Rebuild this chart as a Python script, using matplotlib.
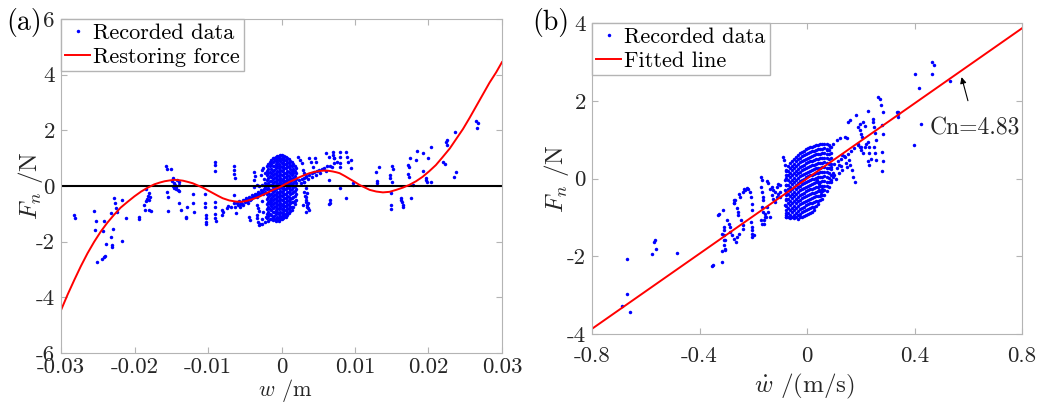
import matplotlib

matplotlib.use("Agg")
import matplotlib.pyplot as plt
import numpy as np

plt.rcParams["font.family"] = "serif"
plt.rcParams["font.serif"] = ["cmr10"]
plt.rcParams["mathtext.fontset"] = "cm"
plt.rcParams["axes.unicode_minus"] = False
plt.rcParams["axes.formatter.use_mathtext"] = True

AX_GREY = "#b4b4b4"
TXT = "#262626"

# ---- (a) restoring force vs displacement ----
curve_w = [-0.0300, -0.0291, -0.0282, -0.0273, -0.0264, -0.0255, -0.0246, -0.0237,
           -0.0228, -0.0219, -0.0209, -0.0200, -0.0191, -0.0182, -0.0173, -0.0166,
           -0.0159, -0.0152, -0.0146, -0.0140, -0.0134, -0.0128, -0.0121, -0.0114,
           -0.0107, -0.0100, -0.0093, -0.0086, -0.0080, -0.0071, -0.0062, -0.0055,
           -0.0048, -0.0039, -0.0030, -0.0023, -0.0016, -0.0010, -0.0003, 0.0004,
           0.0011, 0.0018, 0.0024, 0.0031, 0.0038, 0.0047, 0.0056, 0.0063,
           0.0070, 0.0075, 0.0079, 0.0086, 0.0093, 0.0100, 0.0106, 0.0113,
           0.0120, 0.0129, 0.0138, 0.0147, 0.0156, 0.0165, 0.0174, 0.0183,
           0.0192, 0.0201, 0.0210, 0.0219, 0.0229, 0.0238, 0.0247, 0.0256,
           0.0265, 0.0274, 0.0283, 0.0292, 0.0300]
curve_f = [-4.46, -3.90, -3.38, -2.88, -2.42, -2.01, -1.64, -1.32,
           -1.04, -0.78, -0.56, -0.37, -0.20, -0.06, 0.06, 0.12,
           0.17, 0.20, 0.22, 0.21, 0.19, 0.15, 0.10, 0.02,
           -0.06, -0.16, -0.26, -0.36, -0.44, -0.52, -0.56, -0.57,
           -0.54, -0.47, -0.38, -0.29, -0.20, -0.12, -0.05, 0.05,
           0.15, 0.23, 0.31, 0.39, 0.46, 0.52, 0.55, 0.55,
           0.52, 0.49, 0.46, 0.36, 0.25, 0.14, 0.04, -0.05,
           -0.14, -0.20, -0.23, -0.21, -0.14, -0.06, 0.04, 0.17,
           0.33, 0.53, 0.75, 1.03, 1.35, 1.70, 2.05, 2.45,
           2.87, 3.29, 3.71, 4.08, 4.45]

rec_a_left = [
    (-0.0282, -1.04), (-0.0281, -1.14), (-0.0255, -0.90), (-0.0253, -1.26), (-0.0254, -1.58),
    (-0.0251, -2.74), (-0.0244, -2.63), (-0.0242, -2.56), (-0.0240, -2.52), (-0.0243, -1.60),
    (-0.0241, -1.25), (-0.0239, -2.10), (-0.0231, -2.18), (-0.0230, -2.13), (-0.0232, -1.84),
    (-0.0229, -1.56), (-0.0232, -0.96), (-0.0228, -0.44), (-0.0227, -0.60), (-0.0225, -0.80),
    (-0.0224, -0.92), (-0.0217, -0.50), (-0.0217, -1.98), (-0.0212, -1.14), (-0.0194, -1.10),
    (-0.0194, -1.19), (-0.0187, -0.68), (-0.0186, -0.86), (-0.0184, -0.54), (-0.0183, -0.48),
    (-0.0182, -0.36), (-0.0180, -0.86), (-0.0178, -0.89), (-0.0184, -0.12), (-0.0180, -0.26),
    (-0.0179, -0.38), (-0.0180, -0.50), (-0.0157, 0.72), (-0.0156, 0.60), (-0.0151, 0.60),
    (-0.0155, -0.38), (-0.0156, -0.20), (-0.0155, -0.90), (-0.0149, 0.18), (-0.0147, 0.29),
    (-0.0146, 0.12), (-0.0145, 0.05), (-0.0144, -0.05), (-0.0143, -0.12), (-0.0141, -0.15),
    (-0.0140, -0.18), (-0.0148, 0.00), (-0.0146, -0.08), (-0.0142, 0.22), (-0.0139, 0.15),
    (-0.0139, 0.04), (-0.0139, -0.60), (-0.0137, -0.86), (-0.0130, -1.10), (-0.0130, -1.16),
    (-0.0128, -0.74), (-0.0120, -0.30), (-0.0120, -0.60), (-0.0119, -0.92), (-0.0104, -0.30),
    (-0.0104, -0.62), (-0.0104, -0.74), (-0.0103, -1.04), (-0.0103, -1.16), (-0.0103, -1.28),
    (-0.0103, -1.37), (-0.0091, 0.87), (-0.0091, 0.75), (-0.0091, 0.54), (-0.0090, -0.59),
    (-0.0090, -0.77), (-0.0090, -1.01), (-0.0090, -1.16), (-0.0089, -1.26), (-0.0081, -0.86),
    (-0.0081, -1.04), (-0.0080, -0.95), (-0.0074, -0.80), (-0.0073, -0.72), (-0.0069, -0.74),
    (-0.0064, 0.72), (-0.0064, 0.58), (-0.0064, 0.43), (-0.0063, 0.28), (-0.0064, -0.32),
    (-0.0064, -0.62), (-0.0063, -0.74), (-0.0062, -0.98),
]

rec_a_trail = [
    (-0.0060, -0.62), (-0.0058, -0.55), (-0.0055, -0.60), (-0.0053, -0.50), (-0.0050, -0.52),
    (-0.0048, -0.44), (-0.0046, -0.48), (-0.0044, -0.38), (-0.0042, -0.42), (-0.0040, -0.33),
    (-0.0038, -0.36), (-0.0036, -0.27), (-0.0034, -0.30), (-0.0032, -0.22), (-0.0030, -0.25),
    (-0.0028, -0.16), (-0.0026, -0.19), (-0.0024, -0.12), (-0.0056, -0.75), (-0.0052, -0.70),
    (-0.0045, -0.62), (-0.0038, -0.02), (-0.0034, 0.02), (-0.0030, 0.00), (-0.0026, 0.02),
    (-0.0044, -1.10), (-0.0043, -1.22), (-0.0037, 0.51), (-0.0036, 0.36), (-0.0037, 0.22),
    (-0.0034, -1.04), (-0.0033, -1.16), (-0.0032, -1.28), (-0.0031, -1.40), (-0.0034, -0.68),
    (-0.0032, -0.80), (-0.0030, -0.90), (-0.0029, -1.35), (-0.0027, -1.20), (-0.0026, -1.38),
    (-0.0028, 0.40), (-0.0026, 0.58), (-0.0025, 0.66), (-0.0023, 0.45), (-0.0027, -0.55),
    (-0.0025, -0.95), (-0.0022, -1.30), (-0.0021, -1.10), (-0.0059, -0.68), (-0.0057, -0.64),
    (-0.0054, -0.66), (-0.0049, -0.58), (-0.0047, -0.54), (-0.0043, -0.50), (-0.0041, -0.45),
    (-0.0039, -0.40), (-0.0035, -0.35), (-0.0033, -0.40), (-0.0031, -0.32), (-0.0029, -0.28),
    (-0.0027, -0.24), (-0.0025, -0.30), (-0.0023, -0.20), (-0.0022, -0.05), (-0.0022, 0.10),
    (-0.0024, 0.25),
]

# dense cluster around w = 0, stored column by column
core_a_w = [-0.0020, -0.0018, -0.0016, -0.0014, -0.0012, -0.0010, -0.0008, -0.0006,
            -0.0004, -0.0002, 0.0000, 0.0002, 0.0004, 0.0006, 0.0008, 0.0010,
            0.0012, 0.0014, 0.0016, 0.0018, 0.0020]
core_a_f = [
    [0.72, 0.55, 0.38, 0.20, 0.05, -0.12, -0.30, -0.48, -0.65, -0.82, -1.00, -1.15],
    [0.80, 0.62, 0.45, 0.28, 0.10, -0.06, -0.24, -0.40, -0.58, -0.75, -0.92, -1.08, -1.25],
    [0.85, 0.70, 0.52, 0.36, 0.18, 0.02, -0.15, -0.32, -0.50, -0.66, -0.84, -1.00, -1.18],
    [0.93, 0.78, 0.62, 0.47, 0.32, 0.17, 0.02, -0.13, -0.28, -0.43, -0.58, -0.73, -0.88, -1.03, -1.18],
    [1.00, 0.86, 0.70, 0.55, 0.40, 0.25, 0.10, -0.05, -0.20, -0.35, -0.50, -0.65, -0.80, -0.95, -1.10, -1.22],
    [1.02, 0.88, 0.72, 0.58, 0.43, 0.28, 0.13, -0.02, -0.17, -0.32, -0.47, -0.62, -0.77, -0.92, -1.07, -1.20],
    [1.05, 0.92, 0.78, 0.63, 0.48, 0.33, 0.18, 0.03, -0.12, -0.27, -0.42, -0.57, -0.72, -0.87, -1.02, -1.17, -1.26],
    [1.07, 0.99, 0.85, 0.70, 0.55, 0.40, 0.25, 0.10, -0.05, -0.20, -0.35, -0.50, -0.65, -0.80, -0.95, -1.10, -1.22],
    [1.08, 0.95, 0.80, 0.66, 0.51, 0.36, 0.21, 0.06, -0.09, -0.24, -0.39, -0.54, -0.69, -0.84, -0.99, -1.14, -1.24],
    [1.10, 1.02, 0.88, 0.73, 0.58, 0.43, 0.28, 0.13, -0.02, -0.17, -0.32, -0.47, -0.62, -0.77, -0.92, -1.07, -1.18],
    [1.10, 0.97, 0.83, 0.68, 0.53, 0.38, 0.23, 0.08, -0.07, -0.22, -0.37, -0.52, -0.67, -0.82, -0.97, -1.10, -1.20],
    [1.09, 1.00, 0.86, 0.71, 0.56, 0.41, 0.26, 0.11, -0.04, -0.19, -0.34, -0.49, -0.64, -0.79, -0.94, -1.06, -1.16],
    [1.08, 0.93, 0.78, 0.63, 0.48, 0.33, 0.18, 0.03, -0.12, -0.27, -0.42, -0.57, -0.72, -0.87, -1.00, -1.12],
    [1.04, 0.92, 0.78, 0.63, 0.48, 0.33, 0.18, 0.03, -0.12, -0.27, -0.42, -0.57, -0.72, -0.87, -1.02, -1.10],
    [1.00, 0.85, 0.70, 0.55, 0.40, 0.25, 0.10, -0.05, -0.20, -0.35, -0.50, -0.65, -0.80, -0.95, -1.05],
    [0.96, 0.82, 0.67, 0.52, 0.37, 0.22, 0.07, -0.08, -0.23, -0.38, -0.53, -0.68, -0.83, -0.98],
    [0.90, 0.75, 0.60, 0.45, 0.30, 0.15, 0.00, -0.15, -0.30, -0.45, -0.60, -0.75, -0.90],
    [0.86, 0.70, 0.54, 0.38, 0.22, 0.06, -0.10, -0.26, -0.42, -0.58, -0.74, -0.86],
    [0.80, 0.62, 0.45, 0.28, 0.12, -0.05, -0.22, -0.40, -0.58, -0.75],
    [0.72, 0.54, 0.36, 0.18, 0.00, -0.18, -0.36, -0.54, -0.66],
    [0.65, 0.45, 0.25, 0.10, -0.10, -0.30, -0.50],
]

rec_a_right = [
    (0.0022, 1.05), (0.0025, 0.93), (0.0028, 0.81), (0.0029, 0.57), (0.0031, 0.45),
    (0.0033, 0.33), (0.0031, 0.15), (0.0034, -0.06), (0.0035, -0.24), (0.0033, -0.38),
    (0.0034, -0.56), (0.0035, -0.68), (0.0036, -0.80), (0.0038, 0.99), (0.0040, 0.87),
    (0.0043, 0.69), (0.0045, 0.99), (0.0047, 0.87), (0.0061, 1.17), (0.0065, 1.05),
    (0.0070, 1.11), (0.0072, 0.99), (0.0075, 0.87), (0.0065, 0.22), (0.0066, -0.50),
    (0.0066, -0.60), (0.0024, 0.20), (0.0028, 0.26), (0.0031, 0.30), (0.0034, 0.36),
    (0.0038, 0.40), (0.0041, 0.46), (0.0044, 0.50), (0.0048, 0.55), (0.0051, 0.58),
    (0.0055, 0.62), (0.0058, 0.66), (0.0062, 0.70), (0.0066, 0.72), (0.0026, 0.10),
    (0.0030, 0.16), (0.0036, 0.24), (0.0042, 0.32), (0.0047, 0.40), (0.0053, 0.48),
    (0.0060, 0.55), (0.0030, -0.20), (0.0032, -0.35), (0.0034, -0.50), (0.0036, -0.62),
    (0.0035, -0.75), (0.0037, -0.86), (0.0033, -0.92), (0.0029, -0.68), (0.0070, 1.23),
    (0.0071, 0.99), (0.0071, 0.81), (0.0069, 0.69), (0.0079, 1.23), (0.0080, 1.05),
    (0.0080, 0.81), (0.0079, 0.69), (0.0088, 1.23), (0.0089, 1.05), (0.0090, 0.87),
    (0.0095, 0.93), (0.0095, 0.64), (0.0097, 0.10), (0.0079, -0.08), (0.0088, -0.42),
    (0.0065, -0.65), (0.0129, 0.51), (0.0133, 0.69), (0.0130, 0.18), (0.0130, 0.10),
    (0.0147, 0.40), (0.0148, 0.28), (0.0151, 0.16), (0.0151, 0.72), (0.0152, 0.61),
    (0.0149, -0.26), (0.0149, -0.68), (0.0149, -0.84), (0.0162, -0.42), (0.0163, -0.50),
    (0.0164, -0.58), (0.0165, -0.68), (0.0165, -0.74), (0.0176, -0.44), (0.0172, 0.75),
    (0.0173, 0.69), (0.0172, 0.42), (0.0173, 0.33), (0.0175, 1.02), (0.0183, 0.93),
    (0.0184, 1.26), (0.0179, 0.04), (0.0192, 0.54), (0.0193, 1.17), (0.0196, 0.22),
    (0.0197, 0.28), (0.0198, 0.16), (0.0200, 0.99), (0.0203, 0.13), (0.0203, 1.39),
    (0.0220, 0.87), (0.0222, 0.78), (0.0224, 1.59), (0.0225, 1.65), (0.0225, 1.47),
    (0.0236, 1.93), (0.0235, 0.31), (0.0237, 0.49), (0.0265, 2.34), (0.0267, 2.25),
    (0.0266, 2.07),
]

# ---- (b) force vs velocity ----
cn = 4.83
fit_v = [-0.8, 0.8]

rec_b_outer = [
    (-0.669, -2.06), (-0.671, -2.98), (-0.687, -3.28), (-0.659, -3.43), (-0.570, -1.63),
    (-0.566, -1.59), (-0.576, -1.93), (-0.563, -1.80), (-0.482, -1.91), (-0.352, -2.25),
    (-0.348, -2.23), (-0.316, -2.15), (0.400, 2.69), (0.416, 2.32), (0.425, 1.40),
    (0.398, 0.86), (0.466, 2.68), (0.471, 2.92), (0.465, 2.99), (0.533, 2.51),
    (0.338, 1.72), (0.338, 1.59),
]

rec_b_left = [
    (-0.332, -0.95), (-0.326, -0.92), (-0.311, -0.82), (-0.310, -1.25), (-0.308, -1.33),
    (-0.310, -1.46), (-0.307, -1.59), (-0.310, -1.72), (-0.305, -1.85), (-0.298, -1.07),
    (-0.292, -1.16), (-0.288, -1.25), (-0.285, -1.37), (-0.279, -1.46), (-0.272, -1.55),
    (-0.266, -1.63), (-0.260, -1.50), (-0.254, -1.42), (-0.271, -0.62), (-0.267, -0.56),
    (-0.262, -0.77), (-0.258, -0.86), (-0.255, -0.94), (-0.244, -1.07), (-0.240, -1.20),
    (-0.238, -1.29), (-0.236, -0.26), (-0.230, -0.30), (-0.224, -0.25), (-0.218, -0.28),
    (-0.211, -0.34), (-0.208, -0.48), (-0.205, -0.65), (-0.205, -0.82), (-0.205, -1.25),
    (-0.203, -1.42), (-0.205, -1.50), (-0.168, -0.04), (-0.170, 0.04), (-0.172, -0.21),
    (-0.168, -0.34), (-0.164, -0.47), (-0.162, -0.56), (-0.168, -0.73), (-0.162, -0.86),
    (-0.156, -0.99), (-0.172, -1.07), (-0.166, -1.16), (-0.150, -0.73), (-0.144, -0.86),
    (-0.138, -0.99), (-0.137, -0.26), (-0.131, -0.21), (-0.125, -0.30), (-0.119, -0.34),
    (-0.113, -0.21), (-0.107, -0.13), (-0.101, -0.17), (-0.131, -0.43), (-0.125, -0.52),
    (-0.119, -0.60), (-0.113, -0.47), (-0.107, -0.39), (-0.150, -0.06), (-0.144, -0.12),
    (-0.088, 0.56), (-0.086, 0.47), (-0.083, 0.34), (-0.079, 0.21), (-0.077, 0.09),
    (-0.082, -0.04), (-0.077, -0.17), (-0.083, -0.30), (-0.079, -0.43), (-0.077, -0.56),
    (-0.083, -0.69), (-0.077, -0.82), (-0.079, -0.95), (-0.077, -0.99), (-0.101, -0.34),
    (-0.101, -0.47), (-0.316, -1.42), (-0.310, -1.59), (-0.307, -1.80), (-0.316, -1.86),
    (-0.272, -0.56), (-0.270, -0.64), (-0.254, -0.39), (-0.248, -0.47), (-0.238, -0.34),
    (-0.210, -1.12), (-0.204, -1.33), (-0.198, -1.46), (-0.161, -1.07), (-0.161, -1.16),
    (-0.155, -0.90), (-0.151, -0.99),
]

# dense cluster around zero velocity, column by column
core_b_v = [-0.0775, -0.070, -0.0625, -0.055, -0.0475, -0.040, -0.0325, -0.025,
            -0.0175, -0.010, -0.0025, 0.005, 0.0125, 0.020, 0.0275, 0.035,
            0.0425, 0.050, 0.0575, 0.065, 0.0725, 0.080, 0.0875]
core_b_f = [
    [0.20, 0.02, -0.16, -0.34, -0.52, -0.70, -0.88, -1.00],
    [0.32, 0.20, 0.08, -0.04, -0.16, -0.28, -0.40, -0.52, -0.64, -0.76, -0.88, -0.98],
    [0.39, 0.27, 0.15, 0.03, -0.09, -0.21, -0.33, -0.45, -0.57, -0.69, -0.81, -0.93, -1.02],
    [0.45, 0.33, 0.21, 0.09, -0.03, -0.15, -0.27, -0.39, -0.51, -0.63, -0.75, -0.87, -0.99],
    [0.50, 0.38, 0.26, 0.14, 0.02, -0.10, -0.22, -0.34, -0.46, -0.58, -0.70, -0.82, -0.94, -1.02],
    [0.56, 0.44, 0.32, 0.20, 0.08, -0.04, -0.16, -0.28, -0.40, -0.52, -0.64, -0.76, -0.88, -1.00],
    [0.61, 0.49, 0.37, 0.25, 0.13, 0.01, -0.11, -0.23, -0.35, -0.47, -0.59, -0.71, -0.83, -0.95, -1.03],
    [0.66, 0.54, 0.42, 0.30, 0.18, 0.06, -0.06, -0.18, -0.30, -0.42, -0.54, -0.66, -0.78, -0.90, -1.00],
    [0.69, 0.57, 0.45, 0.33, 0.21, 0.09, -0.03, -0.15, -0.27, -0.39, -0.51, -0.63, -0.75, -0.87, -0.99],
    [0.72, 0.60, 0.48, 0.36, 0.24, 0.12, 0.00, -0.12, -0.24, -0.36, -0.48, -0.60, -0.72, -0.84, -0.96],
    [0.75, 0.63, 0.51, 0.39, 0.27, 0.15, 0.03, -0.09, -0.21, -0.33, -0.45, -0.57, -0.69, -0.81, -0.93],
    [0.78, 0.66, 0.54, 0.42, 0.30, 0.18, 0.06, -0.06, -0.18, -0.30, -0.42, -0.54, -0.66, -0.78, -0.90],
    [0.80, 0.68, 0.56, 0.44, 0.32, 0.20, 0.08, -0.04, -0.16, -0.28, -0.40, -0.52, -0.64, -0.76, -0.88],
    [0.82, 0.70, 0.58, 0.46, 0.34, 0.22, 0.10, -0.02, -0.14, -0.26, -0.38, -0.50, -0.62, -0.74, -0.86],
    [0.84, 0.72, 0.60, 0.48, 0.36, 0.24, 0.12, 0.00, -0.12, -0.24, -0.36, -0.48, -0.60, -0.72, -0.80],
    [0.86, 0.74, 0.62, 0.50, 0.38, 0.26, 0.14, 0.02, -0.10, -0.22, -0.34, -0.46, -0.58, -0.70],
    [0.87, 0.75, 0.63, 0.51, 0.39, 0.27, 0.15, 0.03, -0.09, -0.21, -0.33, -0.45, -0.57, -0.66],
    [0.88, 0.76, 0.64, 0.52, 0.40, 0.28, 0.16, 0.04, -0.08, -0.20, -0.32, -0.44, -0.56],
    [0.89, 0.77, 0.65, 0.53, 0.41, 0.29, 0.17, 0.05, -0.07, -0.19, -0.31, -0.43, -0.52],
    [0.90, 0.78, 0.66, 0.54, 0.42, 0.30, 0.18, 0.06, -0.06, -0.18, -0.30, -0.42],
    [0.88, 0.76, 0.64, 0.52, 0.40, 0.28, 0.16, 0.04, -0.08, -0.20, -0.32],
    [0.86, 0.74, 0.62, 0.50, 0.38, 0.26, 0.14, 0.02, -0.10, -0.22],
    [0.80, 0.66, 0.52, 0.38, 0.24, 0.10, -0.04],
]

rec_b_right = [
    (0.036, -0.04), (0.045, -0.15), (0.055, -0.26), (0.061, -0.30), (0.045, -0.30),
    (0.052, -0.40), (0.073, 0.73), (0.085, 0.82), (0.098, 0.90), (0.110, 0.99),
    (0.122, 1.03), (0.140, 1.07), (0.147, 1.03), (0.090, 0.30), (0.102, 0.38),
    (0.115, 0.45), (0.127, 0.50), (0.139, 0.58), (0.152, 0.62), (0.164, 0.70),
    (0.176, 0.78), (0.188, 0.85), (0.200, 0.80), (0.095, 0.05), (0.108, 0.00),
    (0.120, 0.15), (0.132, 0.22), (0.098, 0.15), (0.112, 0.26), (0.125, 0.33),
    (0.145, 0.40), (0.155, 0.47), (0.160, 0.35), (0.166, 0.22), (0.172, 0.05),
    (0.178, -0.08), (0.190, 0.90), (0.196, 0.82), (0.202, 0.73), (0.208, 0.65),
    (0.214, 0.82), (0.220, 0.90), (0.226, 0.95), (0.232, 0.82), (0.232, 0.65),
    (0.226, 0.45), (0.232, 0.36), (0.238, 0.50), (0.160, 1.50), (0.153, 1.46),
    (0.182, 1.63), (0.190, 1.33), (0.196, 1.24), (0.202, 1.15), (0.205, 1.07),
    (0.196, 1.40), (0.208, 1.45), (0.214, 1.36), (0.228, 1.74), (0.244, 1.54),
    (0.246, 1.45), (0.250, 1.33), (0.253, 1.16), (0.255, 0.99), (0.250, 0.82),
    (0.253, 0.65), (0.255, 0.47), (0.265, 2.10), (0.271, 2.05), (0.277, 1.90),
    (0.283, 1.72), (0.280, 1.37), (0.283, 1.14), (0.280, 0.67), (0.283, 0.45),
    (0.280, 0.19), (0.333, 1.72), (0.339, 1.67), (0.090, -0.10), (0.100, 0.10),
    (0.120, 0.35), (0.130, 0.60), (0.140, 0.55), (0.150, 0.30),
]


def gather(groups, core_x, core_y):
    pts = [p for g in groups for p in g]
    xs = [p[0] for p in pts] + [x for x, col in zip(core_x, core_y) for _ in col]
    ys = [p[1] for p in pts] + [y for col in core_y for y in col]
    return np.array(xs), np.array(ys)


def style_axes(ax, xpad):
    for s in ax.spines.values():
        s.set_color(AX_GREY)
        s.set_linewidth(0.8)
    ax.tick_params(direction="in", length=4, width=0.8, color=AX_GREY,
                   top=True, right=True, labelsize=16.5, labelcolor=TXT, pad=4.5)
    ax.tick_params(axis="x", pad=xpad)


dot = dict(ls="none", marker="o", ms=2.5, mew=0, color="blue")
leg_kw = dict(loc="upper left", fontsize=16, frameon=True, fancybox=False,
              edgecolor=AX_GREY, framealpha=1, borderaxespad=0, numpoints=1,
              handlelength=1.1, handletextpad=0.15, borderpad=0.2, labelspacing=0.2)

fig = plt.figure(figsize=(10.43, 4.03), dpi=100)

# panel (a)
ax1 = fig.add_axes([0.0585, 0.124, 0.4228, 0.829])
wa, fa = gather([rec_a_left, rec_a_trail, rec_a_right], core_a_w, core_a_f)
ax1.plot(wa, fa, label="Recorded data", **dot)
ax1.axhline(0, color="black", lw=1.5)
ax1.plot(curve_w, curve_f, color="red", lw=1.4, label="Restoring force")
ax1.set_xlim(-0.03, 0.03)
ax1.set_ylim(-6, 6)
ax1.set_xticks([-0.03, -0.02, -0.01, 0, 0.01, 0.02, 0.03],
               labels=["-0.03", "-0.02", "-0.01", "0", "0.01", "0.02", "0.03"])
ax1.set_yticks([-6, -4, -2, 0, 2, 4, 6], labels=["-6", "-4", "-2", "0", "2", "4", "6"])
style_axes(ax1, 3)
ax1.set_xlabel(r"$w$ /m", fontsize=16, color=TXT)
ax1.set_ylabel(r"$F_n$ /N", fontsize=18, color=TXT)
ax1.xaxis.set_label_coords(0.508, -0.072)
ax1.yaxis.set_label_coords(-0.037, 0.5)
ax1.legend(**leg_kw)

# panel (b)
ax2 = fig.add_axes([0.5676, 0.171, 0.4123, 0.772])
vb, fb = gather([rec_b_outer, rec_b_left, rec_b_right], core_b_v, core_b_f)
ax2.plot(vb, fb, label="Recorded data", **dot)
fit_v = np.array(fit_v)
ax2.plot(fit_v, cn * fit_v, color="red", lw=1.4, label="Fitted line")
ax2.set_xlim(-0.8, 0.8)
ax2.set_ylim(-4, 4)
ax2.set_xticks([-0.8, -0.4, 0, 0.4, 0.8], labels=["-0.8", "-0.4", "0", "0.4", "0.8"])
ax2.set_yticks([-4, -2, 0, 2, 4], labels=["-4", "-2", "0", "2", "4"])
style_axes(ax2, 9)
ax2.set_xlabel(r"$\dot{w}$ /(m/s)", fontsize=18, color=TXT)
ax2.set_ylabel(r"$F_n$ /N", fontsize=18, color=TXT)
ax2.xaxis.set_label_coords(0.495, -0.122)
ax2.yaxis.set_label_coords(-0.050, 0.5)
ax2.legend(**leg_kw)

tip_v = 0.575
ax2.annotate(f"Cn={cn}", xy=(tip_v, cn * tip_v - 0.17), xytext=(0.626, 1.30),
             ha="center", va="center", fontsize=17, color=TXT,
             arrowprops=dict(arrowstyle="-|>", color="black", lw=0.8,
                             mutation_scale=9, shrinkA=10, shrinkB=0))

fig.text(0.006, 0.945, "(a)", fontsize=20, va="center", color="black")
fig.text(0.510, 0.943, "(b)", fontsize=20, va="center", color="black")

fig.savefig("out.png", dpi=100)
